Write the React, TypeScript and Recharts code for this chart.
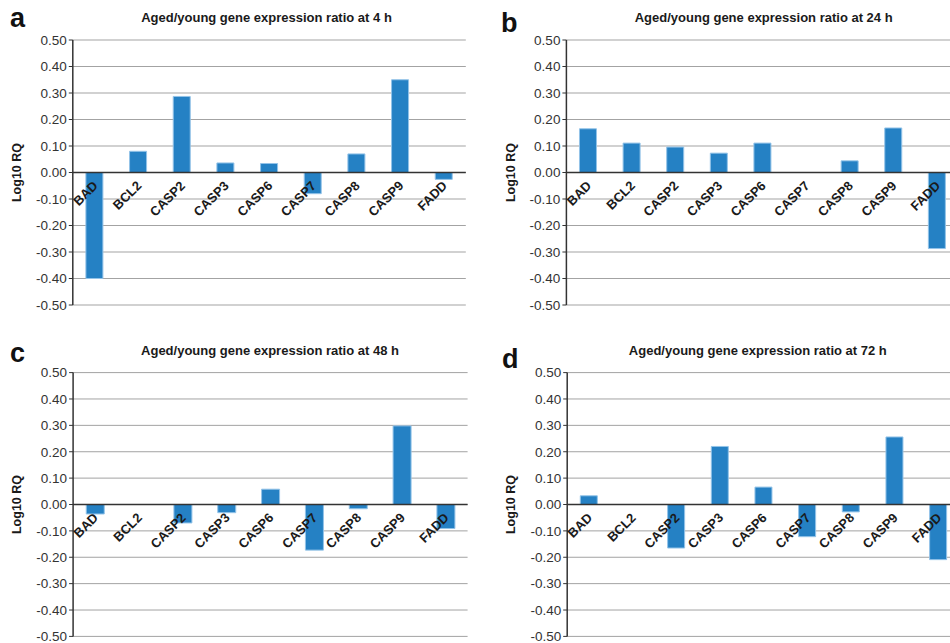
import React from 'react';
import { BarChart, Bar, XAxis, YAxis, CartesianGrid, ReferenceLine, ReferenceDot } from 'recharts';

const genes = ['BAD', 'BCL2', 'CASP2', 'CASP3', 'CASP6', 'CASP7', 'CASP8', 'CASP9', 'FADD'];
const ratio4h = [-0.4, 0.08, 0.287, 0.036, 0.034, -0.08, 0.07, 0.35, -0.026];
const ratio24h = [0.165, 0.111, 0.096, 0.073, 0.111, 0, 0.044, 0.168, -0.287];
const ratio48h = [-0.036, 0, -0.07, -0.031, 0.058, -0.173, -0.016, 0.298, -0.091];
const ratio72h = [0.033, 0, -0.165, 0.22, 0.066, -0.122, -0.028, 0.256, -0.209];
const yTicks = [-0.5, -0.4, -0.3, -0.2, -0.1, 0, 0.1, 0.2, 0.3, 0.4, 0.5];
const titles = [
  'Aged/young gene expression ratio at 4 h',
  'Aged/young gene expression ratio at 24 h',
  'Aged/young gene expression ratio at 48 h',
  'Aged/young gene expression ratio at 72 h',
];
const letters = ['a', 'b', 'c', 'd'];

const FONT = '"Liberation Sans", Arial, Helvetica, sans-serif';
const BAR_FILL = '#2581c4';
const BAR_EDGE = '#93c3e8';

const build = (vals: number[]) => genes.map((g, i) => ({ gene: g, value: vals[i] }));

const panels = [
  { data: build(ratio4h), left: 0, top: 0, width: 475, height: 320, margin: { top: 40, right: 9.2, bottom: 15, left: 0.8 } },
  { data: build(ratio24h), left: 475, top: 0, width: 500, height: 320, margin: { top: 40, right: 16.1, bottom: 15, left: 19.4 } },
  { data: build(ratio48h), left: 0, top: 330, width: 475, height: 313, margin: { top: 42.6, right: 7.4, bottom: 6.6, left: 1.1 } },
  { data: build(ratio72h), left: 475, top: 330, width: 500, height: 313, margin: { top: 42.6, right: 14.8, bottom: 6.6, left: 20.2 } },
];

const titlePos = [
  { x: 266.5, y: 21.5 },
  { x: 763.7, y: 21.5 },
  { x: 270, y: 354.5 },
  { x: 757.8, y: 354.5 },
];
const letterPos = [
  { x: 10, y: 26.5 },
  { x: 501, y: 31.5 },
  { x: 10, y: 361.5 },
  { x: 502, y: 367.5 },
];

const CatLabel = (gene: string) => (p: any) => {
  const x = p.cx + 4;
  const y = p.cy + 14;
  return (
    <text
      x={x}
      y={y}
      textAnchor="end"
      transform={`rotate(-45, ${x}, ${y})`}
      fontFamily={FONT}
      fontSize={13}
      fontWeight="bold"
      fill="#1a1a1a"
    >
      {gene}
    </text>
  );
};

function Panel({ cfg }: { cfg: typeof panels[number] }) {
  const yLabelX = cfg.margin.left + 17 - 0.8;
  return (
    <div style={{ position: 'absolute', left: cfg.left, top: cfg.top, width: cfg.width, height: cfg.height }}>
      <BarChart width={cfg.width} height={cfg.height} data={cfg.data} margin={cfg.margin} barCategoryGap="30%">
        <CartesianGrid horizontal vertical={false} stroke="#a3a3a3" strokeWidth={1} />
        <XAxis dataKey="gene" hide />
        <YAxis
          domain={[-0.5, 0.5]}
          ticks={yTicks}
          interval={0}
          width={72}
          tickSize={4}
          tickMargin={2}
          tickFormatter={(v: number) => v.toFixed(2)}
          tick={{ fontFamily: FONT, fontSize: 13.5, fill: '#333' }}
          axisLine={{ stroke: '#333', strokeWidth: 1.5 }}
          tickLine={{ stroke: '#333' }}
          label={{
            content: (p: any) => {
              const vb = p.viewBox || {};
              const cx = yLabelX;
              const cy = (vb.y ?? 0) + (vb.height ?? 0) / 2;
              return (
                <text
                  x={cx}
                  y={cy}
                  textAnchor="middle"
                  transform={`rotate(-90, ${cx}, ${cy})`}
                  fontFamily={FONT}
                  fontSize={12.5}
                  fontWeight="bold"
                  fill="#1a1a1a"
                  dominantBaseline="central"
                >
                  Log10 RQ
                </text>
              );
            },
          }}
        />
        <Bar dataKey="value" fill={BAR_FILL} stroke={BAR_EDGE} strokeWidth={1} isAnimationActive={false} />
        <ReferenceLine y={0} stroke="#333" strokeWidth={1.5} />
        {genes.map((g) => (
          <ReferenceDot key={g} x={g} y={0} r={1} shape={CatLabel(g)} />
        ))}
      </BarChart>
    </div>
  );
}

export default function App() {
  return (
    <div style={{ position: 'absolute', left: 0, top: 0, width: 950, height: 643, overflow: 'hidden', background: '#fff' }}>
      {panels.map((cfg, i) => (
        <Panel key={i} cfg={cfg} />
      ))}
      <svg width={950} height={643} style={{ position: 'absolute', left: 0, top: 0, pointerEvents: 'none' }}>
        {titles.map((t, i) => (
          <text
            key={t}
            x={titlePos[i].x}
            y={titlePos[i].y}
            textAnchor="middle"
            fontFamily={FONT}
            fontSize={13}
            fontWeight="bold"
            fill="#1a1a1a"
          >
            {t}
          </text>
        ))}
        {letters.map((l, i) => (
          <text
            key={l}
            x={letterPos[i].x}
            y={letterPos[i].y}
            fontFamily={FONT}
            fontSize={27}
            fontWeight="bold"
            fill="#111"
          >
            {l}
          </text>
        ))}
      </svg>
    </div>
  );
}
